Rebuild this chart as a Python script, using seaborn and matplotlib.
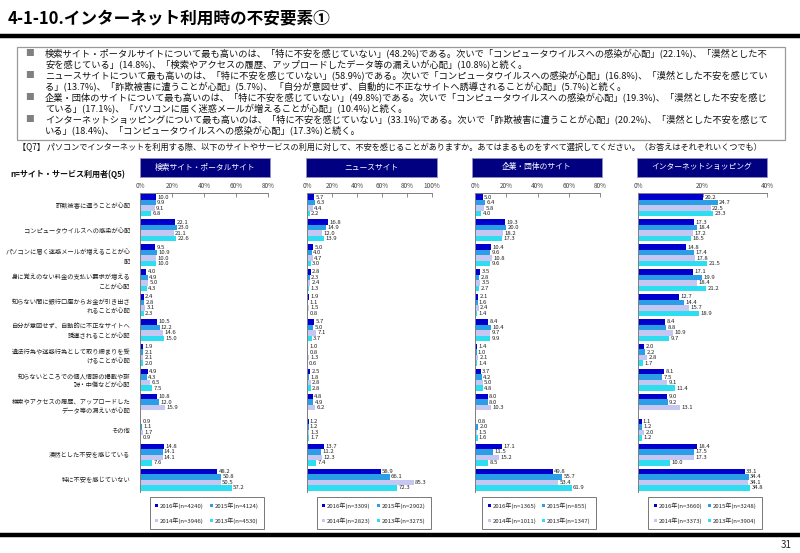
import numpy as np
import pandas as pd
import matplotlib
matplotlib.use('Agg')
import matplotlib.pyplot as plt
import seaborn as sns
from matplotlib.patches import Rectangle, Patch
from matplotlib.lines import Line2D

sns.set_theme(style='white')
plt.rcParams['font.family'] = ['Noto Sans CJK JP', 'DejaVu Sans']

# ---------------- data ----------------
categories = [
    "詐欺被害に遭うことが心配",
    "コンピュータウイルスへの感染が心配",
    "パソコンに届く迷惑メールが増えることが心配",
    "身に覚えのない料金の支払い要求が増えることが心配",
    "知らない間に銀行口座からお金が引き出されることが心配",
    "自分が意図せず、自動的に不正なサイトへ誘導されることが心配",
    "違法行為や迷惑行為として取り締まりを受けることが心配",
    "知らないところでの個人情報の掲載や誹謗・中傷などが心配",
    "検索やアクセスの履歴、アップロードしたデータ等の漏えいが心配",
    "その他",
    "漠然とした不安を感じている",
    "特に不安を感じていない",
]
category_labels = [
    "詐欺被害に遭うことが心配",
    "コンピュータウイルスへの感染が心配",
    "パソコンに届く迷惑メールが増えることが心\n配",
    "身に覚えのない料金の支払い要求が増える\nことが心配",
    "知らない間に銀行口座からお金が引き出さ\nれることが心配",
    "自分が意図せず、自動的に不正なサイトへ\n誘導されることが心配",
    "違法行為や迷惑行為として取り締まりを受\nけることが心配",
    "知らないところでの個人情報の掲載や誹\n謗・中傷などが心配",
    "検索やアクセスの履歴、アップロードした\nデータ等の漏えいが心配",
    "その他",
    "漠然とした不安を感じている",
    "特に不安を感じていない",
]
years = ['2016年', '2015年', '2014年', '2013年']
colors = ['#0000CC', '#2A9FE6', '#C6C6F2', '#2EDDF0']

panel_titles = ['検索サイト・ポータルサイト', 'ニュースサイト', '企業・団体のサイト', 'インターネットショッピング']
panel_xmax = [80, 100, 80, 40]

portal_2016 = [10.0, 22.1, 9.5, 4.0, 2.4, 10.5, 1.9, 4.9, 10.8, 0.9, 14.8, 48.2]
portal_2015 = [9.9, 23.0, 10.9, 4.9, 2.8, 12.2, 2.1, 4.3, 12.0, 1.1, 14.1, 50.8]
portal_2014 = [9.1, 21.1, 10.0, 5.0, 3.1, 14.6, 2.1, 6.5, 15.9, 1.7, 14.1, 50.5]
portal_2013 = [6.8, 22.6, 10.0, 4.3, 2.3, 15.0, 2.0, 7.5, None, 0.9, 7.6, 57.2]
portal_n = ['4240', '4124', '3946', '4530']

news_2016 = [5.7, 16.8, 5.0, 2.8, 1.9, 5.7, 1.0, 2.5, 4.8, 1.2, 13.7, 58.9]
news_2015 = [6.3, 14.9, 4.0, 2.3, 1.1, 5.0, 0.8, 1.8, 4.9, 1.2, 11.2, 66.1]
news_2014 = [4.4, 12.0, 4.7, 2.4, 1.5, 7.1, 1.3, 2.8, 6.2, 1.3, 12.3, 85.3]
news_2013 = [2.2, 13.9, 3.0, 1.3, 0.8, 3.7, 0.6, 2.8, None, 1.7, 7.4, 72.3]
news_n = ['3309', '2902', '2823', '3275']

corp_2016 = [5.0, 19.3, 10.4, 3.5, 2.1, 8.4, 1.4, 3.7, 8.0, 0.8, 17.1, 49.8]
corp_2015 = [6.4, 20.0, 9.6, 2.8, 1.6, 10.4, 1.0, 4.2, 8.0, 2.0, 11.5, 55.7]
corp_2014 = [5.8, 18.2, 10.8, 3.5, 2.4, 9.7, 2.1, 5.0, 10.3, 1.5, 15.2, 53.4]
corp_2013 = [4.0, 17.3, 9.6, 2.7, 1.4, 9.9, 1.4, 4.8, None, 1.6, 8.5, 61.9]
corp_n = ['1365', '855', '1011', '1347']

shop_2016 = [20.2, 17.3, 14.8, 17.1, 12.7, 8.4, 2.0, 8.1, 9.0, 1.1, 18.4, 33.1]
shop_2015 = [24.7, 18.4, 17.4, 19.9, 14.4, 8.8, 2.2, 7.5, 9.2, 1.2, 17.5, 34.4]
shop_2014 = [22.5, 17.2, 17.8, 18.4, 15.7, 10.9, 2.8, 9.1, 13.1, 2.0, 17.3, 34.1]
shop_2013 = [23.3, 16.5, 21.5, 21.2, 18.9, 9.7, 1.7, 11.4, None, 1.2, 10.0, 34.8]
shop_n = ['3660', '3248', '3373', '3904']

panels = [
    ([portal_2016, portal_2015, portal_2014, portal_2013], portal_n),
    ([news_2016, news_2015, news_2014, news_2013], news_n),
    ([corp_2016, corp_2015, corp_2014, corp_2013], corp_n),
    ([shop_2016, shop_2015, shop_2014, shop_2013], shop_n),
]

summary_lines = [
    "検索サイト・ポータルサイトについて最も高いのは、「特に不安を感じていない」(48.2%)である。次いで「コンピュータウイルスへの感染が心配」(22.1%)、「漠然とした不",
    "安を感じている」(14.8%)、「検索やアクセスの履歴、アップロードしたデータ等の漏えいが心配」(10.8%)と続く。",
    "ニュースサイトについて最も高いのは、「特に不安を感じていない」(58.9%)である。次いで「コンピュータウイルスへの感染が心配」(16.8%)、「漠然とした不安を感じてい",
    "る」(13.7%)、「詐欺被害に遭うことが心配」(5.7%)、 「自分が意図せず、自動的に不正なサイトへ誘導されることが心配」(5.7%)と続く。",
    "企業・団体のサイトについて最も高いのは、「特に不安を感じていない」(49.8%)である。次いで「コンピュータウイルスへの感染が心配」(19.3%)、「漠然とした不安を感じ",
    "ている」(17.1%)、「パソコンに届く迷惑メールが増えることが心配」(10.4%)と続く。",
    "インターネットショッピングについて最も高いのは、「特に不安を感じていない」(33.1%)である。次いで「詐欺被害に遭うことが心配」(20.2%)、「漠然とした不安を感じて",
    "いる」(18.4%)、「コンピュータウイルスへの感染が心配」(17.3%)と続く。",
]
question = "【Q7】 パソコンでインターネットを利用する際、以下のサイトやサービスの利用に対して、不安を感じることがありますか。あてはまるものをすべて選択してください。（お答えはそれぞれいくつでも）"

# ---------------- figure ----------------
W, H = 800, 553
fig = plt.figure(figsize=(W / 100, H / 100), dpi=100)
fig.patch.set_facecolor('white')

def fx(x):
    return x / W

def fy(y):
    return 1 - y / H

# title & rules
fig.text(fx(8), fy(19), "4-1-10.インターネット利用時の不安要素①", fontsize=12, fontweight='bold',
         ha='left', va='center', color='black')
fig.add_artist(Line2D([0, 1], [fy(36), fy(36)], lw=3.2, color='black'))
fig.add_artist(Line2D([0, 1], [fy(535), fy(535)], lw=3.2, color='black'))
fig.text(fx(792), fy(545), "31", fontsize=7, ha='right', va='center')

# summary box
fig.add_artist(Rectangle((fx(17), fy(140)), fx(785) - fx(17), fy(47) - fy(140),
                         transform=fig.transFigure, fill=False, edgecolor='#9a9a9a', lw=0.9))
for i, line in enumerate(summary_lines):
    y = 53 + 11 * i
    if i % 2 == 0:
        fig.text(fx(25), fy(y), "■", fontsize=6.3, color='#808080', ha='left', va='center')
    fig.text(fx(45), fy(y), line, fontsize=6.65, ha='left', va='center', color='#111111')

fig.text(fx(18), fy(148), question, fontsize=5.9, ha='left', va='center', color='#111111')
fig.text(fx(10), fy(174), "n=サイト・サービス利用者(Q5)", fontsize=5.8, ha='left', va='center',
         color='#111111', fontweight='bold')

# panels
ax_lefts = [140, 307, 475, 638]
ax_widths = [128, 125, 125, 129]
header_x = [(140, 270), (306, 437), (472, 602), (637, 767)]
legend_cx = [207, 374, 539, 705]
ax_top, ax_bot = 193, 492

for p, ((series, ns), title, xmax) in enumerate(zip(panels, panel_titles, panel_xmax)):
    rows = []
    for yr, vals in zip(years, series):
        for cat, v in zip(categories, vals):
            if v is not None:
                rows.append({'category': cat, 'year': yr, 'value': v})
    df = pd.DataFrame(rows)

    ax = fig.add_axes([fx(ax_lefts[p]), fy(ax_bot), ax_widths[p] / W, (ax_bot - ax_top) / H])
    sns.barplot(data=df, x='value', y='category', hue='year', order=categories, hue_order=years,
                palette=colors, orient='h', width=0.88, ax=ax, legend=False, linewidth=0,
                saturation=1, errorbar=None)
    for cont in ax.containers:
        ax.bar_label(cont, fmt='%.1f', fontsize=4.3, padding=1, color='#222222')

    ax.set_xlim(0, xmax)
    step = 20
    ax.set_xticks(np.arange(0, xmax + 1, step))
    ax.set_xticklabels([f"{int(t)}%" for t in np.arange(0, xmax + 1, step)], fontsize=4.6, color='#444444')
    ax.xaxis.tick_top()
    ax.tick_params(axis='x', top=True, bottom=False, labeltop=True, labelbottom=False,
                   length=3, direction='in', color='#777777', width=0.6, pad=2)
    ax.set_xlabel('')
    ax.set_ylabel('')
    ax.set_ylim(11.5, -0.5)
    if p == 0:
        ax.set_yticks(range(len(categories)))
        ax.set_yticklabels(category_labels, fontsize=4.5, color='#222222', linespacing=1.25)
        ax.tick_params(axis='y', length=0, pad=7)
    else:
        ax.set_yticks(range(len(categories)))
        ax.set_yticklabels([])
        ax.tick_params(axis='y', length=0)
    for s in ['right', 'bottom']:
        ax.spines[s].set_visible(False)
    for s in ['top', 'left']:
        ax.spines[s].set_color('#808080')
        ax.spines[s].set_linewidth(0.7)
    ax.set_facecolor('white')
    ax.grid(False)

    # header box
    x0, x1 = header_x[p]
    fig.add_artist(Rectangle((fx(x0), fy(177)), fx(x1) - fx(x0), fy(158) - fy(177),
                             transform=fig.transFigure, facecolor='#000080', edgecolor='#9090c0', lw=0.6))
    fig.text(fx((x0 + x1) / 2), fy(167.5), title, fontsize=5.6, color='white', ha='center', va='center')

    # legend
    handles = [Patch(facecolor=c, edgecolor='none') for c in colors]
    labels = [f"{y}(n={n})" for y, n in zip(years, ns)]
    order = [0, 2, 1, 3]
    leg = ax.legend([handles[i] for i in order], [labels[i] for i in order], ncol=2, loc='center',
                    bbox_to_anchor=(fx(legend_cx[p]), fy(513)), bbox_transform=fig.transFigure,
                    fontsize=4.3, frameon=True, fancybox=False, edgecolor='#555555',
                    handlelength=0.5, handleheight=0.5, handletextpad=0.3, columnspacing=1.0,
                    borderpad=0.9, labelspacing=1.4)
    leg.get_frame().set_linewidth(0.7)

fig.savefig('out.png', dpi=100, facecolor='white')
